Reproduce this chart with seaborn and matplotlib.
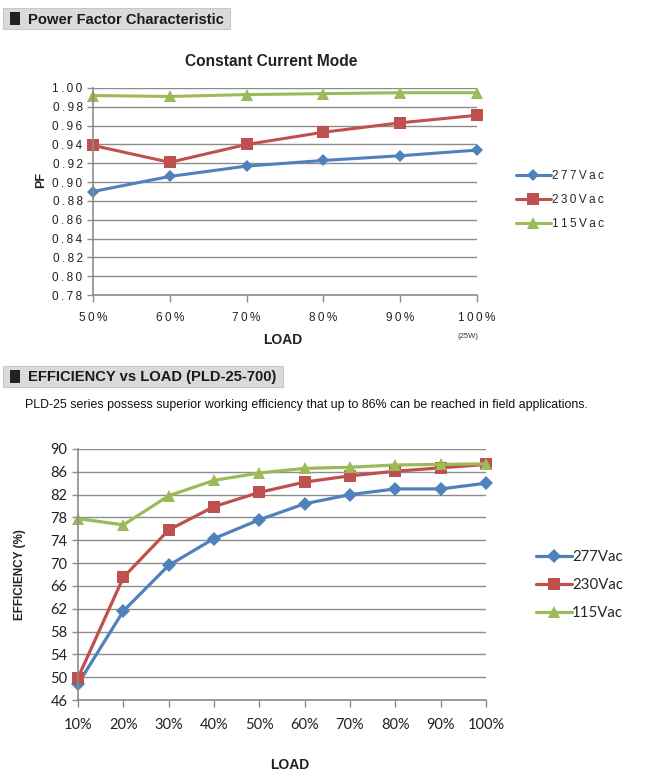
import pandas as pd
import numpy as np
import seaborn as sns
import matplotlib.pyplot as plt
from matplotlib.patches import Rectangle

# Data
series = ['277Vac', '230Vac', '115Vac']
colors = {'277Vac': '#4F81BD', '230Vac': '#C0504D', '115Vac': '#9BBB59'}
markers = {'277Vac': 'D', '230Vac': 's', '115Vac': '^'}

load_pf = ['50%', '60%', '70%', '80%', '90%', '100%']
pf_277 = [0.890, 0.906, 0.917, 0.923, 0.928, 0.934]
pf_230 = [0.939, 0.921, 0.940, 0.953, 0.963, 0.971]
pf_115 = [0.992, 0.991, 0.993, 0.994, 0.995, 0.995]
pf_ticks = [1.00, 0.98, 0.96, 0.94, 0.92, 0.90, 0.88, 0.86, 0.84, 0.82, 0.80, 0.78]

load_eff = ['10%', '20%', '30%', '40%', '50%', '60%', '70%', '80%', '90%', '100%']
eff_277 = [48.8, 61.6, 69.6, 74.3, 77.6, 80.4, 82.0, 83.0, 83.0, 84.0]
eff_230 = [49.9, 67.5, 75.8, 79.9, 82.4, 84.2, 85.3, 86.1, 86.7, 87.3]
eff_115 = [77.8, 76.7, 81.8, 84.5, 85.8, 86.6, 86.8, 87.2, 87.3, 87.4]
eff_ticks = [90, 86, 82, 78, 74, 70, 66, 62, 58, 54, 50, 46]

sns.set_style("white")
plt.rcParams['font.family'] = ['Liberation Sans', 'DejaVu Sans']

W, H = 670, 781
fig = plt.figure(figsize=(W / 100, H / 100), dpi=100)


def fx(x):
    return x / W


def fy(y):
    return 1 - y / H


def spaced(s):
    return '\u2009'.join(s)


def header(x0, x1, y0, y1, text):
    fig.patches.append(Rectangle((fx(x0), fy(y1)), fx(x1) - fx(x0), fy(y0) - fy(y1),
                                 transform=fig.transFigure, facecolor='#DADADA',
                                 edgecolor='#C8C8C8', lw=0.8))
    fig.patches.append(Rectangle((fx(x0 + 7), fy(y1 - 4)), fx(10), fy(0) - fy(13),
                                 transform=fig.transFigure, facecolor='#222222', lw=0))
    fig.text(fx(x0 + 25), fy((y0 + y1) / 2 + 1), text, fontsize=10.6, fontweight='bold',
             va='center', ha='left', color='#1a1a1a')


def long_df(vals, labels):
    rows = []
    for name, v in zip(series, vals):
        for i, val in enumerate(v):
            rows.append({'pos': i, 'value': val, 'series': name, 'load': labels[i]})
    return pd.DataFrame(rows)


def style_axes(ax):
    ax.grid(axis='y', color='#8c8c8c', lw=1)
    ax.grid(axis='x', visible=False)
    for s in ['top', 'right']:
        ax.spines[s].set_visible(False)
    for s in ['left', 'bottom']:
        ax.spines[s].set_color('#8c8c8c')
        ax.spines[s].set_linewidth(1.2)
    ax.tick_params(axis='both', colors='#8c8c8c', labelcolor='#222222', direction='out',
                   length=4, width=1, left=True, bottom=True)
    ax.set_axisbelow(True)


# ---------------- Power factor chart ----------------
header(3, 230, 8, 29, 'Power Factor Characteristic')
fig.text(fx(271), fy(62), 'Constant Current Mode', fontsize=11.2, fontweight='bold',
         ha='center', va='center', color='#222222')

ax1 = fig.add_axes([fx(93), fy(295), fx(477) - fx(93), fy(88) - fy(295)])
df_pf = long_df([pf_277, pf_230, pf_115], load_pf)
sns.lineplot(data=df_pf, x='pos', y='value', hue='series', style='series', hue_order=series,
             style_order=series, palette=colors, markers=markers, dashes=False,
             markersize=8.5, linewidth=2.2, markeredgewidth=0, ax=ax1, legend=False)
for ln in ax1.lines:
    ln.set_clip_on(False)
    if ln.get_marker() == 'D':
        ln.set_markersize(6.5)
style_axes(ax1)
ax1.set_xlim(0, len(load_pf) - 1)
ax1.set_ylim(0.78, 1.00)
ax1.set_yticks(pf_ticks)
ax1.set_yticklabels([spaced(f'{t:.2f}') for t in pf_ticks], fontsize=8.5)
ax1.set_xticks(range(len(load_pf)))
ax1.set_xticklabels([spaced(l) for l in load_pf], fontsize=8.5)
ax1.tick_params(axis='x', pad=7, length=5)
ax1.set_xlabel('LOAD', fontsize=10, fontweight='bold', color='#222222')
ax1.xaxis.set_label_coords(fx(283), fy(333), transform=fig.transFigure)
ax1.set_ylabel('PF', fontsize=9, fontweight='bold', color='#222222')
ax1.yaxis.set_label_coords(fx(47), fy(180), transform=fig.transFigure)
fig.text(fx(468), fy(337), '(25W)', fontsize=5.5, ha='center', va='center', color='#333333')
ax1.legend(ax1.lines, [spaced(s) for s in series], loc='center left',
           bbox_to_anchor=(fx(505), fy(200)), bbox_transform=fig.transFigure,
           frameon=False, fontsize=8.5, handlelength=3.0, labelspacing=1.0,
           handletextpad=0.05, numpoints=1)

# ---------------- Efficiency chart ----------------
header(3, 283, 366, 387, 'EFFICIENCY vs LOAD (PLD-25-700)')
fig.text(fx(25), fy(405), 'PLD-25 series possess superior working efficiency that up to 86% '
         'can be reached in field applications.', fontsize=8.9,
         va='center', ha='left', color='#111111')

ax2 = fig.add_axes([fx(78), fy(700), fx(486) - fx(78), fy(449) - fy(700)])
df_eff = long_df([eff_277, eff_230, eff_115], load_eff)
sns.lineplot(data=df_eff, x='pos', y='value', hue='series', style='series', hue_order=series,
             style_order=series, palette=colors, markers=markers, dashes=False,
             markersize=9, linewidth=2.3, markeredgewidth=0, ax=ax2, legend=False)
for ln in ax2.lines:
    ln.set_clip_on(False)
    if ln.get_marker() == 'D':
        ln.set_markersize(7)
style_axes(ax2)
ax2.set_xlim(0, len(load_eff) - 1)
ax2.set_ylim(46, 90)
ax2.set_yticks(eff_ticks)
ax2.set_yticklabels([str(t) for t in eff_ticks], fontsize=10.5, family=['Lato', 'DejaVu Sans'])
ax2.set_xticks(range(len(load_eff)))
ax2.set_xticklabels(load_eff, fontsize=10.5, family=['Lato', 'DejaVu Sans'])
ax2.tick_params(axis='x', pad=8, length=5)
ax2.set_xlabel('LOAD', fontsize=10, fontweight='bold', color='#222222')
ax2.xaxis.set_label_coords(fx(290), fy(758), transform=fig.transFigure)
ax2.set_ylabel('EFFICIENCY (%)', fontsize=8.5, fontweight='bold', color='#222222')
ax2.yaxis.set_label_coords(fx(26), fy(575), transform=fig.transFigure)
ax2.legend(ax2.lines, series, loc='center left',
           bbox_to_anchor=(fx(522), fy(585)), bbox_transform=fig.transFigure,
           frameon=False, prop={'family': ['Lato', 'DejaVu Sans'], 'size': 10.8},
           handlelength=2.4, labelspacing=0.95, handletextpad=0.05, numpoints=1)

fig.savefig('out.png', dpi=100)
